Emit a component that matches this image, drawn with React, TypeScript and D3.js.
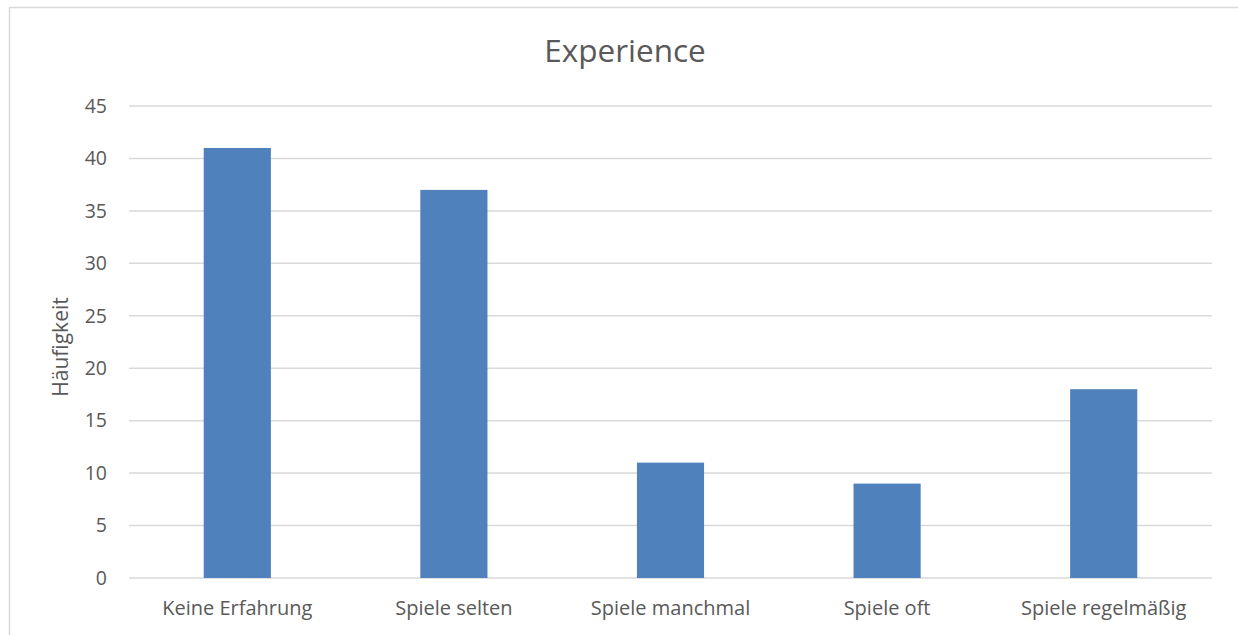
import React from "react";
import * as d3 from "d3";

const categories = ["Keine Erfahrung", "Spiele selten", "Spiele manchmal", "Spiele oft", "Spiele regelmäßig"];
const counts = [41, 37, 11, 9, 18];
const yTicks = [0, 5, 10, 15, 20, 25, 30, 35, 40, 45];
const title = "Experience";
const yLabel = "Häufigkeit";

const W = 1238;
const H = 635;
const plot = { left: 129, right: 1212, top: 106, bottom: 578 };
const font = "'Open Sans', sans-serif";
const textColor = "#595959";

export default function App() {
  const x = d3.scaleBand<string>().domain(categories).range([plot.left, plot.right]).paddingInner(0.69).paddingOuter(0.345);
  const y = d3.scaleLinear().domain([0, 45]).range([plot.bottom, plot.top]);

  return (
    <svg width={W} height={H} style={{ position: "absolute", left: 0, top: 0, background: "#fff" }}>
      <rect x={9.5} y={7.5} width={W} height={H} fill="#fff" stroke="#d9d9d9" strokeWidth={1.5} />
      <text x={625} y={62} textAnchor="middle" fontFamily={font} fontSize={31.5} fill={textColor}>
        {title}
      </text>
      {yTicks.map((t) => (
        <g key={t}>
          <line x1={plot.left} x2={plot.right} y1={y(t)} y2={y(t)} stroke="#d9d9d9" strokeWidth={1.5} />
          <text x={107} y={y(t)} dy="0.35em" textAnchor="end" fontFamily={font} fontSize={19.5} fill={textColor}>
            {t}
          </text>
        </g>
      ))}
      {categories.map((c, i) => (
        <rect key={c} x={x(c)} y={y(counts[i])} width={x.bandwidth()} height={y(0) - y(counts[i])} fill="#4f81bd" />
      ))}
      {categories.map((c) => (
        <text key={c} x={(x(c) ?? 0) + x.bandwidth() / 2} y={615} textAnchor="middle" fontFamily={font} fontSize={20} fill={textColor}>
          {c}
        </text>
      ))}
      <text transform={`translate(68,${(plot.top + plot.bottom) / 2 + 5}) rotate(-90)`} textAnchor="middle" fontFamily={font} fontSize={21} fill={textColor}>
        {yLabel}
      </text>
    </svg>
  );
}
